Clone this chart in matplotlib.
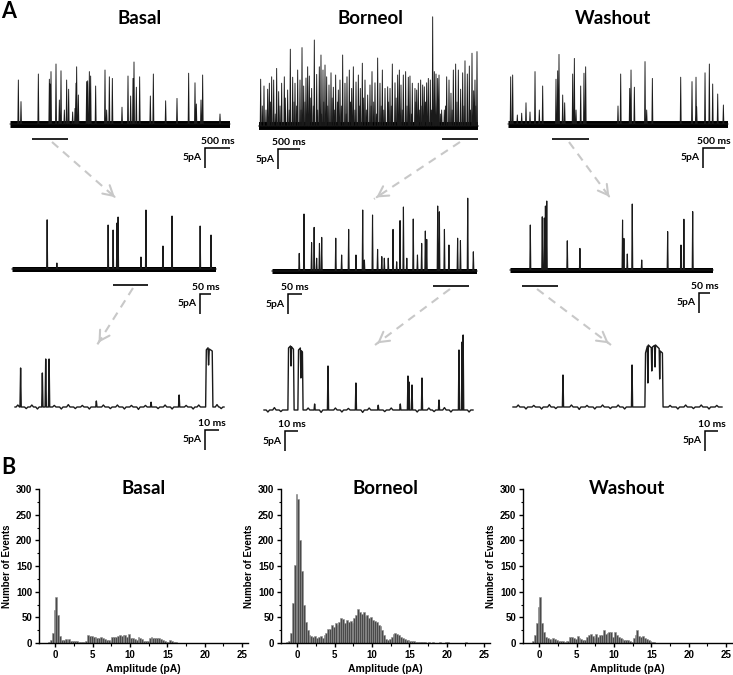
import matplotlib
matplotlib.use('Agg')
import matplotlib.pyplot as plt
import numpy as np
from matplotlib.ticker import MultipleLocator

# ---------------- data ----------------
conditions = ['Basal', 'Borneol', 'Washout']

# top row traces (time ms, amplitude pA)
basal_top_t = [167, 220, 567, 787, 800, 820, 920, 987, 1020, 1087, 1133, 1173, 1253, 1300, 1320, 1333, 1367,
               1533, 1553, 1587, 1613, 1713, 1900, 1933, 1987, 2047, 2240, 2360, 2413, 2460, 2480, 2527, 2593,
               2807, 2867, 3113, 3340, 3573, 3700, 3727, 3820, 3853, 4200]
basal_top_a = [11, 5.6, 12.5, 11.2, 10, 13.1, 15, 6, 13.3, 3.5, 11, 8.7, 3, 3.9, 10.2, 14.3, 7.25,
               10.6, 10.8, 13.1, 12, 9.5, 13.5, 3.5, 11.8, 11.4, 4.2, 12, 7, 11.4, 15.5, 9.2, 11.8,
               7, 12.5, 5.8, 6.4, 12.7, 10.3, 5, 6, 12.25, 2.5]

borneol_top_t = [38, 114, 198, 236, 289, 335, 403, 449, 517, 578, 654, 715, 769, 822, 883, 936, 982, 1020,
                 1073, 1111, 1149, 1202, 1263, 1317, 1377, 1415, 1461, 1507, 1545, 1598, 1644, 1697, 1750,
                 1811, 1849, 1910, 1963, 2009, 2062, 2116, 2154, 2215, 2268, 2313, 2359, 2420, 2481, 2534,
                 2580, 2648, 2709, 2762, 2816, 2877, 2938, 2991, 3044, 3105, 3166, 3204, 3242, 3295, 3348,
                 3409, 3447, 3500, 3561, 3600, 3637, 3691, 3737, 3774, 3828, 3866, 3911, 3965, 4003, 4041,
                 4079, 4110, 4170, 4231, 4285, 4338, 4383, 4437, 4490, 4551, 4604, 4650, 4703, 4756, 4802,
                 4863, 4901, 4931, 4977]
borneol_top_a = [11.7, 10, 9.2, 10.7, 12.3, 11.5, 14.4, 8.6, 10.7, 12.3, 9, 19.2, 12.2, 10.7, 14, 11.5, 19.6, 10,
                 12, 14.8, 12.5, 9.4, 21.5, 12.9, 14.8, 17.75, 14, 15.25, 12.3, 10.25, 13.3, 9.7, 12.75,
                 9, 11.5, 17.75, 10.7, 12.3, 14, 9.4, 14.8, 11, 12.75, 9.4, 15.7, 11.5, 7.75, 10.25,
                 13.6, 10.8, 17, 10.7, 14, 9.4, 9.8, 9.4, 15.5, 10.8, 12.75, 14, 10.25, 12.75, 13.6,
                 12.2, 12.5, 10.7, 9.4, 9, 10.7, 11.5, 10.25, 9.8, 10.8, 11.9, 11.5, 27.3, 13.6, 13,
                 11.9, 12.75, 4, 4, 12.3, 11.5, 8.2, 14, 15.5, 14, 9.2, 13.3, 16.3, 13, 15,
                 18.2, 8.8, 11.5, 18.6]
borneol_top_small_t = [75, 160, 260, 370, 480, 600, 690, 800, 860, 960, 1050, 1170, 1240, 1340, 1430, 1480,
                       1570, 1670, 1720, 1790, 1880, 1990, 2090, 2190, 2290, 2390, 2450, 2560, 2620, 2680,
                       2790, 2850, 2960, 3020, 3130, 3270, 3380, 3480, 3580, 3660, 3720, 3800, 3940, 4140,
                       4260, 4410, 4520, 4680, 4830, 4950]
borneol_top_small_a = [5, 4, 6, 3, 5, 7, 4, 6, 5, 4, 6, 7, 5, 4, 3, 6, 5, 7, 4, 6, 5, 3, 6, 4, 5, 7, 4, 5, 6, 3,
                       5, 4, 6, 5, 7, 4, 5, 3, 6, 4, 5, 6, 4, 3, 5, 4, 6, 5, 4, 5]

washout_top_t = [61, 106, 212, 311, 409, 500, 614, 712, 788, 1091, 1129, 1159, 1243, 1288, 1470, 1508, 1546,
                 1652, 1727, 1765, 2500, 2561, 2766, 2796, 2872, 3114, 3152, 3281, 3925, 4182, 4273, 4288,
                 4478, 4576, 4652, 4766, 4895]
washout_top_a = [11.8, 12.25, 2.25, 2.7, 5.3, 3, 13.1, 3.5, 9.5, 11.2, 13.3, 17.4, 7.25, 5.3, 12.5, 16.4, 3.5,
                 9.5, 12.7, 14.3, 4.5, 12.5, 8.9, 13.5, 9.2, 15.6, 3.5, 11.4, 11.7, 10.6, 11.7, 4.3,
                 12.8, 15, 10, 7.5, 4.75]

# middle row traces
basal_mid_t = [155, 198, 424, 446, 463, 468, 569, 591, 666, 706, 830, 878]
basal_mid_a = [12.3, 1.5, 11, 9.75, 11.5, 13, 3, 14.75, 5.75, 13.25, 10.75, 8.5]
borneol_mid_t = [97, 114, 141, 150, 159, 169, 177, 227, 248, 273, 299, 323, 329, 358, 376, 391, 400, 414, 431,
                 444, 456, 468, 480, 503, 518, 533, 546, 551, 590, 596, 614, 630, 661, 671, 697, 717]
borneol_mid_a = [4.4, 14.25, 7.1, 10.9, 3.2, 6.9, 8.4, 8.2, 4, 10.4, 4, 15.25, 2.75, 14, 5.4, 3.6, 3.2, 3.2, 10.4,
                 2.3, 12.6, 16, 3.2, 13, 4, 6.9, 10, 7.9, 16.25, 14.8, 10.4, 6.5, 8.2, 7.6, 18.2, 4.8]
washout_mid_t = [90, 143, 152, 157, 163, 254, 310, 499, 505, 520, 542, 584, 699, 758, 771, 810]
washout_mid_a = [11.25, 13.3, 13, 16, 17.25, 7.3, 5.4, 12.5, 7.9, 4, 16.5, 2.5, 9.6, 6.25, 12.7, 14.6]

# bottom row traces: brief openings (ms, pA), burst profiles (ms, pA) and small baseline fluctuations
basal_bot_t = [4.0, 19.5, 21.9, 24.3, 58, 97, 117]
basal_bot_a = [9.75, 8.5, 12, 12, 1.5, 1.2, 3]
basal_bot_burst_t = [[135.9, 136.4, 137.6, 138.0, 138.5, 140.6, 141.1]]
basal_bot_burst_a = [[0, 14.3, 14.8, 10.5, 14.5, 14.0, 0]]
basal_bot_noise_t = [2, 8, 12, 16, 28, 33, 38, 43, 48, 53, 63, 68, 73, 78, 83, 88, 93, 102, 107, 112, 122,
                     127, 131, 144, 147]
basal_bot_noise_a = [0.5, -0.4, 0.5, -0.5, 0.4, -0.5, 0.6, -0.4, 0.4, -0.5, 0.5, -0.4, 0.5, -0.5, 0.4, -0.6,
                     0.4, -0.4, 0.5, -0.5, 0.4, -0.5, 0.5, 0.6, -0.4]

borneol_bot_t = [39, 49.3, 70.8, 88, 105, 110.9, 111.7, 114, 121.7, 134.8, 150.2, 152.6, 153.4]
borneol_bot_a = [1.5, 11, 6.75, 1.2, 1.5, 8.5, 7, 6.25, 8, 2.5, 15, 17, 18.75]
borneol_bot_burst_t = [[18.4, 18.9, 20.4, 20.8, 21.2, 22.7, 23.2],
                       [26.1, 26.6, 28.0, 28.4, 28.8, 29.6, 30.1]]
borneol_bot_burst_a = [[0, 15.5, 16.0, 11.0, 15.8, 15.2, 0],
                       [0, 15.0, 15.5, 8.0, 14.8, 14.5, 0]]
borneol_bot_noise_t = [3, 8, 13, 34, 44, 55, 60, 65, 76, 81, 93, 98, 118, 127, 131, 139, 144, 158]
borneol_bot_noise_a = [-0.5, 0.6, -0.4, 0.5, -0.6, 0.5, -0.5, 0.4, -0.6, 0.5, -0.4, 0.5, -0.5, 0.5, -0.4,
                       0.6, -0.5, -0.5]

washout_bot_t = [38.5, 91.7]
washout_bot_a = [8, 10.5]
washout_bot_burst_t = [[101.6, 102.1, 103.5, 103.9, 104.3, 106.5, 106.9, 107.4, 109.0, 109.4, 109.8, 112.6,
                        113.0, 113.4, 115.1, 115.6]]
washout_bot_burst_a = [[0, 13.5, 15.2, 6.0, 15.5, 14.8, 9.0, 15.0, 15.4, 10.0, 15.5, 14.6, 7.0, 14.0, 13.5, 0]]
washout_bot_noise_t = [4, 10, 16, 22, 28, 33, 45, 51, 57, 63, 69, 75, 81, 86, 121, 127, 133, 139, 145, 151, 157]
washout_bot_noise_a = [0.5, -0.5, 0.4, -0.5, 0.6, -0.4, 0.5, -0.6, 0.4, -0.5, 0.5, -0.4, 0.5, -0.5, 0.4, -0.5,
                       0.5, -0.4, 0.5, -0.5, 0.4]

# histograms (bins of 0.25 pA starting at -1.5 pA)
bin_start = -1.5
bin_width = 0.25
basal_counts = [0, 0, 1, 5, 20, 65, 90, 55, 14, 6, 5, 8, 6, 8, 4, 3, 4, 3, 1, 1, 1, 2, 4, 15, 14, 13, 12, 11,
                10, 9, 12, 10, 7, 5, 6, 4, 11, 12, 11, 14, 15, 13, 16, 15, 12, 17, 10, 10, 8, 6, 11, 9, 7, 4,
                3, 4, 10, 12, 10, 9, 10, 9, 8, 6, 3, 2, 2, 5, 4, 2, 1]
borneol_counts = [2, 3, 20, 77, 152, 290, 280, 200, 140, 75, 40, 25, 15, 14, 12, 13, 10, 11, 14, 9, 15, 20, 27,
                  28, 35, 32, 38, 36, 40, 48, 46, 38, 44, 40, 42, 38, 48, 55, 66, 60, 56, 60, 52, 55, 48, 50,
                  45, 42, 40, 35, 33, 25, 15, 8, 5, 8, 12, 18, 20, 18, 15, 12, 10, 8, 5, 5, 4, 3, 3, 2, 2,
                  1, 1, 1, 1, 0, 1, 0, 1, 0, 0, 0, 1, 0, 0, 1, 1, 0, 0, 0, 0, 0, 0, 0, 0, 0, 1]
washout_counts = [0, 0, 3, 15, 38, 70, 90, 38, 22, 12, 10, 8, 6, 10, 8, 5, 4, 3, 4, 2, 3, 3, 12, 12, 10, 8, 13,
                  10, 7, 6, 5, 11, 15, 17, 14, 10, 17, 12, 15, 16, 25, 18, 20, 22, 21, 12, 22, 15, 12, 10, 8,
                  5, 6, 5, 3, 2, 10, 16, 25, 14, 12, 13, 10, 8, 6, 3, 2, 1]

# ---------------- figure ----------------
W, H = 733, 675
fig = plt.figure(figsize=(W / 100, H / 100), dpi=100)
TFONT = ['Lato', 'DejaVu Sans']
AFONT = ['Liberation Sans', 'DejaVu Sans']
PX_PER_PA = 4.0


def px_axes(left, top, right, bottom):
    return fig.add_axes([left / W, 1 - bottom / H, (right - left) / W, (bottom - top) / H])


ov = fig.add_axes([0, 0, 1, 1])
ov.set_xlim(0, W)
ov.set_ylim(H, 0)
ov.axis('off')


def trace_axes(start, span, baseline, D, ylo=-12, yhi=30):
    ax = px_axes(start, baseline - yhi * PX_PER_PA, start + span, baseline - ylo * PX_PER_PA)
    ax.set_xlim(0, D)
    ax.set_ylim(ylo, yhi)
    ax.axis('off')
    return ax


def draw_trace(ax, D, t_list, a_list, w, base_lw=1.0, spike_lw=0.8, noise_t=(), noise_a=(), noise_w=None,
               bursts_t=(), bursts_a=(), color='#1a1a1a'):
    items = []
    for t, a in zip(t_list, a_list):
        items.append((t - w / 2, [t - w / 2, t, t + w / 2], [0, a, 0]))
    nw = noise_w if noise_w is not None else w
    for t, a in zip(noise_t, noise_a):
        items.append((t - nw / 2, [t - nw / 2, t, t + nw / 2], [0, a, 0]))
    for bt, ba in zip(bursts_t, bursts_a):
        items.append((bt[0], list(bt), list(ba)))
    items.sort(key=lambda it: it[0])
    xs, ys = [0.0], [0.0]
    for _, xx, yy in items:
        xs += xx
        ys += yy
    xs.append(D)
    ys.append(0.0)
    if base_lw > 1.5:
        ax.plot([0, D], [0, 0], color='black', lw=base_lw, solid_capstyle='butt')
    ax.plot(xs, ys, color=color, lw=spike_lw, clip_on=False, solid_joinstyle='round')


def scale_bar(ax, t0, y0, L, label):
    ax.plot([t0 + L, t0, t0], [y0, y0, y0 - 5], color='black', lw=1.1, clip_on=False,
            solid_joinstyle='miter', solid_capstyle='butt')
    ax.annotate(label, xy=(t0 + L / 2, y0), xytext=(0, 1.5), textcoords='offset points',
                ha='center', va='bottom', fontsize=7.5, fontweight='bold', family=TFONT)
    ax.annotate('5pA', xy=(t0, y0 - 2.5), xytext=(-2.5, 0), textcoords='offset points',
                ha='right', va='center', fontsize=7.5, fontweight='bold', family=TFONT)


def underline(ax, t0, t1, y):
    ax.plot([t0, t1], [y, y], color='black', lw=1.2, clip_on=False, solid_capstyle='butt')


# ---- top row ----
ax = trace_axes(10, 220, 124, 4400)
draw_trace(ax, 4400, basal_top_t, basal_top_a, 20, base_lw=5, spike_lw=0.65)
underline(ax, 440, 1160, -3.75)
scale_bar(ax, 3900, -6, 500, '500 ms')

ax = trace_axes(259, 219, 126, 5000)
draw_trace(ax, 5000, borneol_top_small_t, borneol_top_small_a, 22, base_lw=5.5, spike_lw=0.65)
draw_trace(ax, 5000, borneol_top_t, borneol_top_a, 22, base_lw=5.5, spike_lw=0.65)
underline(ax, 4178, 5000, -3.25)
scale_bar(ax, 434, -5.75, 500, '500 ms')

ax = trace_axes(508, 220, 124, 5000)
draw_trace(ax, 5000, washout_top_t, washout_top_a, 22, base_lw=5, spike_lw=0.65)
underline(ax, 1000, 1841, -3.75)
scale_bar(ax, 4432, -6, 500, '500 ms')

# ---- middle row ----
ax = trace_axes(12, 204, 269, 900)
draw_trace(ax, 900, basal_mid_t, basal_mid_a, 4.5, base_lw=3.6, spike_lw=0.8)
underline(ax, 446, 600, -4)
scale_bar(ax, 829, -6.25, 50, '50 ms')

ax = trace_axes(272, 205, 271, 730)
draw_trace(ax, 730, borneol_mid_t, borneol_mid_a, 3.6, base_lw=3.6, spike_lw=0.8)
underline(ax, 573, 702, -3.75)
scale_bar(ax, 57, -5.75, 50, '50 ms')

ax = trace_axes(510, 203, 270, 900)
draw_trace(ax, 900, washout_mid_t, washout_mid_a, 4.5, base_lw=3.6, spike_lw=0.8)
underline(ax, 53, 213, -4)
scale_bar(ax, 838, -5.75, 50, '50 ms')

# ---- bottom row ----
ax = trace_axes(15, 209, 407, 149)
draw_trace(ax, 149, basal_bot_t, basal_bot_a, 0.9, base_lw=1.0, spike_lw=1.0,
           noise_t=basal_bot_noise_t, noise_a=basal_bot_noise_a, noise_w=2.4,
           bursts_t=basal_bot_burst_t, bursts_a=basal_bot_burst_a)
scale_bar(ax, 135.5, -5.75, 10, '10 ms')

ax = trace_axes(264, 209, 410, 161)
draw_trace(ax, 161, borneol_bot_t, borneol_bot_a, 0.9, base_lw=1.0, spike_lw=1.0,
           noise_t=borneol_bot_noise_t, noise_a=borneol_bot_noise_a, noise_w=2.6,
           bursts_t=borneol_bot_burst_t, bursts_a=borneol_bot_burst_a)
scale_bar(ax, 16.2, -5.25, 10, '10 ms')

ax = trace_axes(513, 209, 407, 161)
draw_trace(ax, 161, washout_bot_t, washout_bot_a, 0.9, base_lw=1.0, spike_lw=1.0,
           noise_t=washout_bot_noise_t, noise_a=washout_bot_noise_a, noise_w=2.6,
           bursts_t=washout_bot_burst_t, bursts_a=washout_bot_burst_a)
scale_bar(ax, 148, -6, 10, '10 ms')

# ---- arrows ----
arrows = [((52, 142), (117, 199)), ((460, 142), (374, 199)), ((569, 142), (611, 199)),
          ((133, 288), (97, 345)), ((450, 289), (375, 345)), ((537, 289), (611, 345))]
for (x0, y0), (x1, y1) in arrows:
    ov.plot([x0, x1], [y0, y1], color='#c8c8c8', lw=1.5, ls=(0, (4, 3)))
    dx, dy = x1 - x0, y1 - y0
    n = np.hypot(dx, dy)
    ov.annotate('', xy=(x1, y1), xytext=(x1 - dx / n * 6, y1 - dy / n * 6),
                arrowprops=dict(arrowstyle='->,head_length=0.7,head_width=0.4', color='#c8c8c8', lw=1.5))

# titles
for cx, name in zip([140, 370, 613], conditions):
    ov.text(cx, 19, name, ha='center', va='center', fontsize=13.5, fontweight='bold', family=TFONT)
ov.text(1, 1, 'A', ha='left', va='top', fontsize=15.5, fontweight='bold', family=TFONT)
ov.text(1, 457, 'B', ha='left', va='top', fontsize=15.5, fontweight='bold', family=TFONT)

# ---- histograms ----
hist_lefts = [39, 281, 523]
all_counts = [basal_counts, borneol_counts, washout_counts]
for left, counts, name in zip(hist_lefts, all_counts, conditions):
    hax = px_axes(left, 489, left + 209, 643)
    centers = bin_start + bin_width * (np.arange(len(counts)) + 0.5)
    hax.bar(centers, counts, width=bin_width, color='#4a4a4a', edgecolor='#8f8f8f', linewidth=0.4)
    hax.set_xlim(-2.2, 25.8)
    hax.set_ylim(0, 300)
    hax.xaxis.set_major_locator(MultipleLocator(5))
    hax.xaxis.set_minor_locator(MultipleLocator(2.5))
    hax.yaxis.set_major_locator(MultipleLocator(50))
    hax.yaxis.set_minor_locator(MultipleLocator(25))
    for s in ['top', 'right']:
        hax.spines[s].set_visible(False)
    for s in ['left', 'bottom']:
        hax.spines[s].set_linewidth(1.0)
    hax.tick_params(which='major', direction='out', length=3, width=1, labelsize=7, pad=2)
    hax.tick_params(which='minor', direction='out', length=1.8, width=0.8)
    for lab in hax.get_xticklabels() + hax.get_yticklabels():
        lab.set_fontweight('bold')
        lab.set_family(AFONT)
    hax.set_xlabel('Amplitude (pA)', fontsize=7.5, fontweight='bold', family=AFONT, labelpad=3)
    hax.set_ylabel('Number of Events', fontsize=7, fontweight='bold', family=AFONT, labelpad=3)
    hax.text(0.5, 1.0, name, transform=hax.transAxes, ha='center', va='center',
             fontsize=13.5, fontweight='bold', family=TFONT)

fig.savefig('out.png', dpi=100)
